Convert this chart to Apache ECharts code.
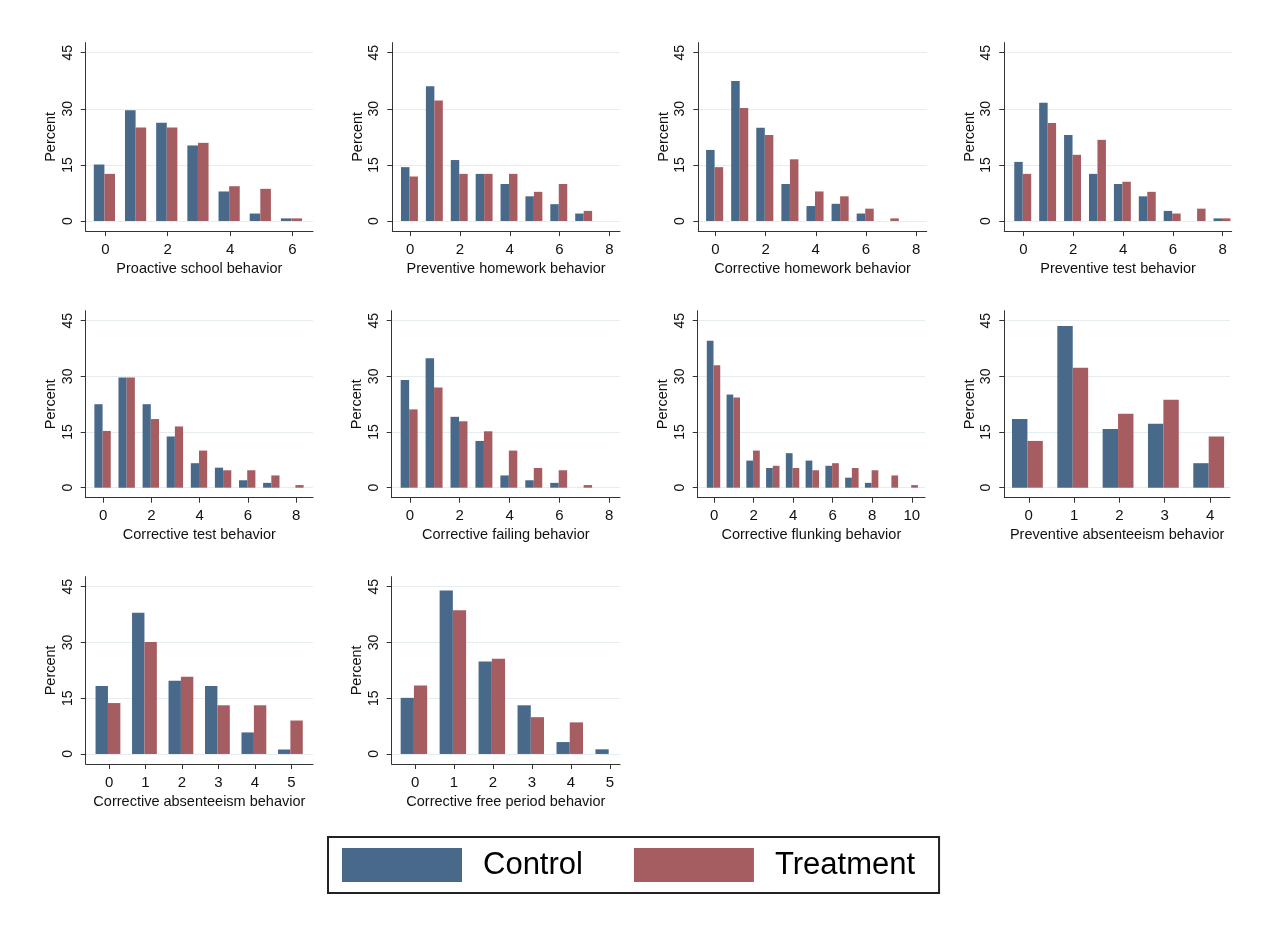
<!DOCTYPE html>
<html>
<head>
<meta charset="utf-8">
<script src="https://cdn.jsdelivr.net/npm/echarts@6/dist/echarts.min.js"></script>
<style>
  html, body { margin: 0; padding: 0; background: #fff; }
  #chart { width: 1270px; height: 926px; }
</style>
</head>
<body>
<div id="chart"></div>
<script>
// Percent of students at each behaviour count, control vs treatment group.
// null = no bar drawn for that count.
const proactiveSchoolControl      = [15.1, 29.6, 26.3, 20.2, 7.9, 2.0, 0.7];
const proactiveSchoolTreatment    = [12.6, 25.0, 25.0, 20.9, 9.3, 8.6, 0.7];
const preventiveHomeworkControl   = [14.4, 36.0, 16.3, 12.6, 9.9, 6.6, 4.5, 2.0];
const preventiveHomeworkTreatment = [11.9, 32.2, 12.6, 12.6, 12.6, 7.8, 9.9, 2.7];
const correctiveHomeworkControl   = [19.0, 37.4, 24.9, 9.9, 4.0, 4.6, 2.0, null];
const correctiveHomeworkTreatment = [14.4, 30.2, 23.0, 16.5, 7.9, 6.6, 3.3, 0.7];
const preventiveTestControl       = [15.8, 31.6, 23.0, 12.6, 9.9, 6.6, 2.7, null, 0.7];
const preventiveTestTreatment     = [12.6, 26.2, 17.7, 21.7, 10.5, 7.8, 2.0, 3.3, 0.7];
const correctiveTestControl       = [22.5, 29.7, 22.5, 13.8, 6.6, 5.4, 2.0, 1.3, null];
const correctiveTestTreatment     = [15.3, 29.7, 18.5, 16.5, 10.0, 4.7, 4.7, 3.3, 0.7];
const correctiveFailingControl    = [29.0, 34.9, 19.1, 12.6, 3.3, 2.0, 1.3, null];
const correctiveFailingTreatment  = [21.1, 27.0, 17.9, 15.2, 10.0, 5.3, 4.7, 0.7];
const correctiveFlunkingControl   = [39.6, 25.1, 7.3, 5.3, 9.3, 7.3, 5.9, 2.7, 1.3, null, null];
const correctiveFlunkingTreatment = [33.0, 24.3, 10.0, 5.9, 5.3, 4.7, 6.6, 5.3, 4.7, 3.3, 0.7];
const preventiveAbsentControl     = [18.5, 43.6, 15.8, 17.2, 6.6];
const preventiveAbsentTreatment   = [12.6, 32.3, 19.9, 23.7, 13.8];
const correctiveAbsentControl     = [18.3, 38.0, 19.7, 18.3, 5.8, 1.2];
const correctiveAbsentTreatment   = [13.7, 30.1, 20.8, 13.1, 13.1, 9.0];
const correctiveFreeControl       = [15.1, 44.0, 24.9, 13.1, 3.2, 1.25];
const correctiveFreeTreatment     = [18.4, 38.7, 25.6, 9.9, 8.5, null];

const panelTitles = [
  'Proactive school behavior', 'Preventive homework behavior',
  'Corrective homework behavior', 'Preventive test behavior',
  'Corrective test behavior', 'Corrective failing behavior',
  'Corrective flunking behavior', 'Preventive absenteeism behavior',
  'Corrective absenteeism behavior', 'Corrective free period behavior'
];

// Tick labels
const yTicks = [0, 15, 30, 45];
const xTicksTo6 = [0, 2, 4, 6];
const xTicksTo8 = [0, 2, 4, 6, 8];
const xTicksTo10 = [0, 2, 4, 6, 8, 10];
const xTicksTo4 = [0, 1, 2, 3, 4];
const xTicksTo5 = [0, 1, 2, 3, 4, 5];

const groupNames = ['Control', 'Treatment'];

const panelControl = [proactiveSchoolControl, preventiveHomeworkControl, correctiveHomeworkControl,
  preventiveTestControl, correctiveTestControl, correctiveFailingControl, correctiveFlunkingControl,
  preventiveAbsentControl, correctiveAbsentControl, correctiveFreeControl];
const panelTreatment = [proactiveSchoolTreatment, preventiveHomeworkTreatment, correctiveHomeworkTreatment,
  preventiveTestTreatment, correctiveTestTreatment, correctiveFailingTreatment, correctiveFlunkingTreatment,
  preventiveAbsentTreatment, correctiveAbsentTreatment, correctiveFreeTreatment];
const panelXTicks = [xTicksTo6, xTicksTo8, xTicksTo8, xTicksTo8, xTicksTo8, xTicksTo8,
  xTicksTo10, xTicksTo4, xTicksTo5, xTicksTo5];

// ---- layout & style ----
const FONT = '"Liberation Sans", Arial, Helvetica, sans-serif';
const COLORS = ['#48698a', '#a65d61'];
const GRID_COLOR = '#e6edf0';
const AXIS_COLOR = '#333';
const BAR_W = 0.34;      // bar width in axis units
const BAR_SPLIT = -0.03; // where control ends and treatment starts, relative to the count
const Y_MIN = -2.7, Y_MAX = 47.7;

// plot areas: rows give [top, height]; cols give [left, width, xMin, xMax]
const rows = [[42.6, 188.5], [310.7, 187.0], [576.7, 187.3]];
const cols = [
  [85.7, 227.3, -0.63, 6.66], [392.3, 227.7, -0.72, 8.43], [698.3, 228.4, -0.68, 8.42], [1004.3, 227.4, -0.77, 8.36],
  [85.7, 227.3, -0.73, 8.70], [391.7, 228.3, -0.73, 8.43], [697.7, 227.3, -0.83, 10.67], [1004.3, 225.7, -0.54, 4.44],
  [85.7, 227.3, -0.64, 5.59], [391.7, 228.3, -0.60, 5.26]
];

function toPoints(values) {
  const pts = [];
  values.forEach((v, i) => { if (v !== null) pts.push([i, v]); });
  return pts;
}

function barRenderer(offset) {
  return function (params, api) {
    const k = api.value(0), v = api.value(1);
    const p0 = api.coord([k + offset, v]);
    const p1 = api.coord([k + offset + BAR_W, 0]);
    return {
      type: 'rect',
      shape: { x: p0[0], y: p0[1], width: p1[0] - p0[0], height: p1[1] - p0[1] },
      style: { fill: api.visual('color') }
    };
  };
}

const grids = [], xAxes = [], yAxes = [], series = [];

panelTitles.forEach((title, i) => {
  const row = rows[Math.floor(i / 4)];
  const c = cols[i];
  grids.push({ left: c[0], top: row[0], width: c[1], height: row[1], containLabel: false });
  xAxes.push({
    gridIndex: i, type: 'value', min: c[2], max: c[3],
    name: title, nameLocation: 'middle', nameGap: 30,
    nameTextStyle: { fontFamily: FONT, fontSize: 14.5, color: '#111' },
    axisLine: { onZero: false, lineStyle: { color: AXIS_COLOR, width: 1 } },
    axisTick: { customValues: panelXTicks[i], length: 5, lineStyle: { color: AXIS_COLOR } },
    axisLabel: { customValues: panelXTicks[i], margin: 11, fontFamily: FONT, fontSize: 15, color: '#111' },
    splitLine: { show: false }
  });
  yAxes.push({
    gridIndex: i, type: 'value', min: Y_MIN, max: Y_MAX,
    name: 'Percent', nameLocation: 'middle', nameGap: 27,
    nameTextStyle: { fontFamily: FONT, fontSize: 14.5, color: '#111' },
    axisLine: { show: true, onZero: false, lineStyle: { color: AXIS_COLOR, width: 1 } },
    axisTick: { show: true, customValues: yTicks, length: 5, lineStyle: { color: AXIS_COLOR } },
    axisLabel: { customValues: yTicks, rotate: 90, margin: 11, fontFamily: FONT, fontSize: 14, color: '#111' },
    splitLine: { show: true, lineStyle: { color: GRID_COLOR, width: 1 } }
  });
  series.push({
    name: groupNames[0], type: 'custom', xAxisIndex: i, yAxisIndex: i,
    itemStyle: { color: COLORS[0] },
    renderItem: barRenderer(BAR_SPLIT - BAR_W),
    encode: { x: 0, y: 1 },
    data: toPoints(panelControl[i]),
    silent: true
  });
  series.push({
    name: groupNames[1], type: 'custom', xAxisIndex: i, yAxisIndex: i,
    itemStyle: { color: COLORS[1] },
    renderItem: barRenderer(BAR_SPLIT),
    encode: { x: 0, y: 1 },
    data: toPoints(panelTreatment[i]),
    silent: true
  });
});

const chart = echarts.init(document.getElementById('chart'), null, { renderer: 'canvas' });
chart.setOption({
  backgroundColor: '#fff',
  animation: false,
  grid: grids,
  xAxis: xAxes,
  yAxis: yAxes,
  series: series,
  legend: {
    data: groupNames,
    left: 328, top: 837,
    orient: 'horizontal',
    icon: 'rect',
    itemWidth: 120, itemHeight: 34, itemGap: 51,
    padding: [11, 24, 11, 14],
    borderColor: '#222', borderWidth: 2,
    selectedMode: false,
    textStyle: { fontFamily: FONT, fontSize: 31, color: '#000', padding: [0, 0, 0, 16] }
  }
});
</script>
</body>
</html>
